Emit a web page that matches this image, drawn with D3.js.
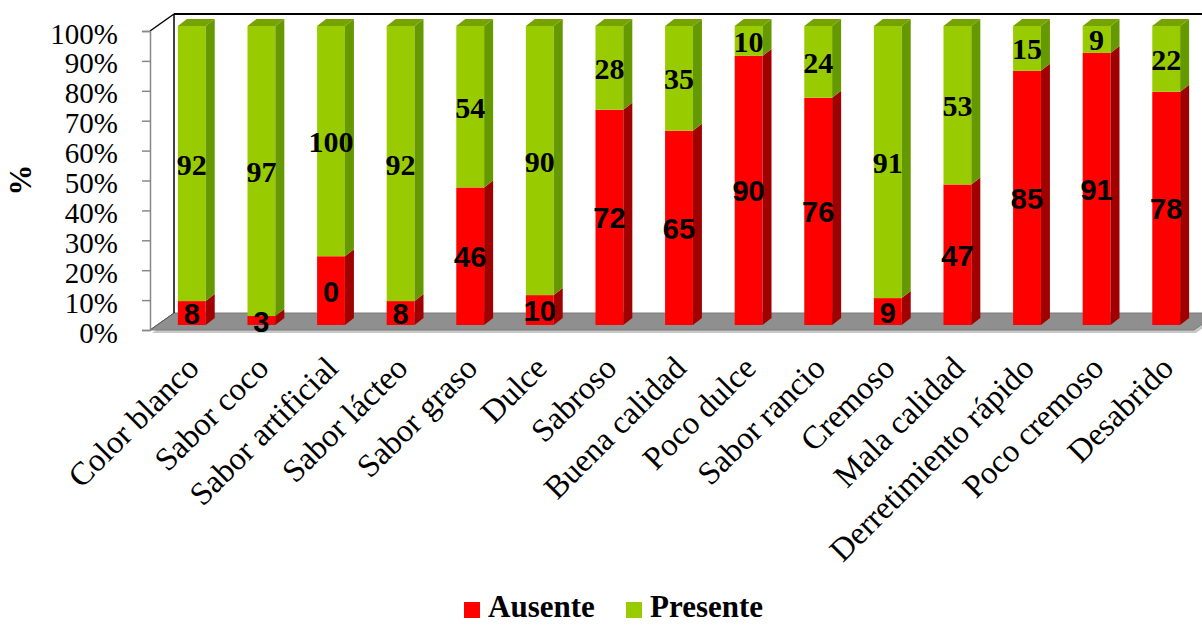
<!DOCTYPE html>
<html>
<head>
<meta charset="utf-8">
<script src="https://cdn.jsdelivr.net/npm/d3@7"></script>
<style>
  html, body { margin: 0; padding: 0; background: #fff; }
  svg { display: block; }
</style>
</head>
<body>
<svg id="chart" width="1202" height="625"></svg>
<script>
const categories = ["Color blanco","Sabor coco","Sabor artificial","Sabor lácteo","Sabor graso","Dulce","Sabroso","Buena calidad","Poco dulce","Sabor rancio","Cremoso","Mala calidad","Derretimiento rápido","Poco cremoso","Desabrido"];
const ausente  = [8, 3, 23, 8, 46, 10, 72, 65, 90, 76, 9, 47, 85, 91, 78];
const presente = [92, 97, 77, 92, 54, 90, 28, 35, 10, 24, 91, 53, 15, 9, 22];
const ausenteLabels  = ["8","3","0","8","46","10","72","65","90","76","9","47","85","91","78"];
const presenteLabels = ["92","97","100","92","54","90","28","35","10","24","91","53","15","9","22"];
const seriesNames = ["Ausente", "Presente"];
const yTicks = [0,10,20,30,40,50,60,70,80,90,100];

(function () {
const svg = d3.select("#chart");
const serif = "'Liberation Serif','Times New Roman',serif";
const sans = "'Liberation Sans',Arial,sans-serif";

const pLeft = 150, pRight = 1194, pBottom = 330, pTop = 31;
const depthX = 24, depthY = -17;        // floor/wall depth
const barOX = 7, barOY = -5;            // bar position in depth
const sideX = 9, sideY = -7;            // bar thickness in depth

const x = d3.scaleBand().domain(categories).range([pLeft, pRight]).paddingInner(0.6).paddingOuter(0.3);
const y = d3.scaleLinear().domain([0, 100]).range([pBottom, pTop]);

const colors = {
  Ausente: {front: "#FF0000", side: "#A00000", top: "#C00000"},
  Presente: {front: "#99CC00", side: "#669900", top: "#77A300"}
};

// floor shadow & floor
const floorPts = [[pLeft, pBottom], [pRight, pBottom], [pRight + depthX, pBottom + depthY], [pLeft + depthX, pBottom + depthY]];
svg.append("polygon")
  .attr("points", floorPts.map(p => [p[0] + 2, p[1] + 3].join(",")).join(" "))
  .attr("fill", "#c8c8c8");
svg.append("polygon")
  .attr("points", floorPts.map(p => p.join(",")).join(" "))
  .attr("fill", "#8f8f8f")
  .attr("stroke", "#7a7a7a").attr("stroke-width", 1);

// walls
svg.append("line").attr("x1", pLeft + depthX).attr("y1", y(100) + depthY).attr("x2", 1202).attr("y2", y(100) + depthY)
  .attr("stroke", "#000").attr("stroke-width", 2.2);
svg.append("line").attr("x1", pLeft + depthX).attr("y1", y(100) + depthY).attr("x2", pLeft + depthX).attr("y2", pBottom + depthY)
  .attr("stroke", "#000").attr("stroke-width", 1.5);
svg.append("line").attr("x1", pLeft).attr("y1", y(100)).attr("x2", pLeft + depthX).attr("y2", y(100) + depthY)
  .attr("stroke", "#000").attr("stroke-width", 1.5);
svg.append("line").attr("x1", pLeft).attr("y1", pBottom).attr("x2", pLeft + depthX).attr("y2", pBottom + depthY)
  .attr("stroke", "#555").attr("stroke-width", 1);

// stacked data
const rows = categories.map((c, i) => ({cat: c, Ausente: ausente[i], Presente: presente[i]}));
const stacked = d3.stack().keys(seriesNames)(rows);

const bw = x.bandwidth();
const gBars = svg.append("g");
stacked.forEach((layer, li) => {
  const col = colors[layer.key];
  layer.forEach((d, i) => {
    const bx = x(d.data.cat) + barOX;
    const yt = y(d[1]) + barOY;
    const yb = y(d[0]) + barOY;
    const g = gBars.append("g");
    g.append("rect").attr("x", bx).attr("y", yt).attr("width", bw).attr("height", Math.max(0, yb - yt))
      .attr("fill", col.front);
    g.append("polygon")
      .attr("points", [[bx + bw, yt], [bx + bw + sideX, yt + sideY], [bx + bw + sideX, yb + sideY], [bx + bw, yb]].map(p => p.join(",")).join(" "))
      .attr("fill", col.side);
    if (li === stacked.length - 1) {
      g.append("polygon")
        .attr("points", [[bx, yt], [bx + sideX, yt + sideY], [bx + bw + sideX, yt + sideY], [bx + bw, yt]].map(p => p.join(",")).join(" "))
        .attr("fill", col.top);
    }
  });
});

// data labels
const gLab = svg.append("g");
stacked.forEach((layer, li) => {
  const labels = li === 0 ? ausenteLabels : presenteLabels;
  layer.forEach((d, i) => {
    const cx = x(d.data.cat) + barOX + bw / 2;
    const cy = (y(d[0]) + y(d[1])) / 2 + barOY;
    gLab.append("text")
      .attr("x", cx).attr("y", cy + 11)
      .attr("text-anchor", "middle")
      .attr("font-family", li === 0 ? sans : serif)
      .attr("font-weight", "bold")
      .attr("font-size", li === 0 ? "29px" : "30px")
      .attr("fill", "#000")
      .text(labels[i]);
  });
});

// y axis
const yAxis = d3.axisLeft(y).tickValues(yTicks).tickSize(8).tickPadding(0).tickFormat(d => d + "%");
const gy = svg.append("g").attr("transform", `translate(${pLeft},0)`).call(yAxis);
gy.select(".domain").attr("stroke", "#888").attr("stroke-width", 1.5);
gy.selectAll(".tick line").attr("stroke", "#888").attr("stroke-width", 1.5);
gy.selectAll(".tick text")
  .attr("x", -32).attr("dy", null).attr("y", 12)
  .attr("font-family", serif).attr("font-size", "29px").attr("fill", "#000");

// y title
svg.append("text")
  .attr("transform", "translate(31,180) rotate(-90)")
  .attr("text-anchor", "middle")
  .attr("font-family", serif).attr("font-weight", "bold").attr("font-size", "31px")
  .text("%");

// category labels
const gx = svg.append("g");
categories.forEach((c, i) => {
  const ax = x(c) + barOX + bw / 2 + 9;
  const ay = 370;
  gx.append("text")
    .attr("transform", `translate(${ax},${ay}) rotate(-45)`)
    .attr("text-anchor", "end")
    .attr("font-family", serif).attr("font-size", "32.5px").attr("fill", "#000")
    .text(c);
});

// legend
const legend = svg.append("g");
const legItems = [{name: "Ausente", x: 464}, {name: "Presente", x: 626}];
legItems.forEach(it => {
  legend.append("rect").attr("x", it.x).attr("y", 602).attr("width", 16).attr("height", 16)
    .attr("fill", colors[it.name].front);
  legend.append("text").attr("x", it.x + 24).attr("y", 617)
    .attr("font-family", serif).attr("font-weight", "bold").attr("font-size", "31px")
    .text(it.name);
});
})();
</script>
</body>
</html>
